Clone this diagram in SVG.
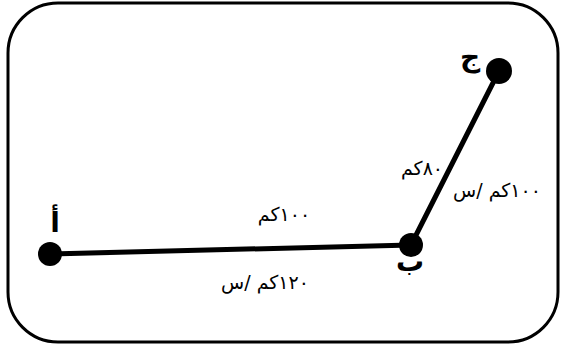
<svg xmlns="http://www.w3.org/2000/svg" width="561" height="347" viewBox="0 0 561 347">
<style>
.frame{fill:#fff;stroke:#000;stroke-width:3}
.edge{stroke:#000;stroke-width:5;stroke-linecap:round;fill:none}
.dot{fill:#000}
.lbl{font-family:"DejaVu Sans",sans-serif;font-weight:bold;font-size:28px;fill:#000;text-anchor:middle}
.dist{font-family:"DejaVu Sans",sans-serif;font-size:19px;fill:#000;text-anchor:middle}
</style>
<rect width="561" height="347" fill="#fff"/>
<rect class="frame" x="8" y="3" width="550" height="339" rx="50" ry="50"/>
<g id="connectors">
<line class="edge" x1="50" y1="254" x2="411" y2="245"/>
<line class="edge" x1="411" y1="245" x2="499" y2="71"/>
<text class="dist" x="284" y="221" direction="rtl">١٠٠كم</text>
<text class="dist" x="265" y="289" direction="rtl">١٢٠كم /س</text>
<text class="dist" x="422" y="175" direction="rtl">٨٠كم</text>
<text class="dist" x="497" y="197" direction="rtl">١٠٠كم /س</text>
</g>
<g id="node-a">
<circle class="dot" cx="50" cy="254" r="12"/>
<text class="lbl" x="55" y="232" direction="rtl">أ</text>
</g>
<g id="node-b">
<circle class="dot" cx="411" cy="245" r="12"/>
<text class="lbl" x="410" y="271" direction="rtl">ب</text>
</g>
<g id="node-c">
<circle class="dot" cx="499" cy="71" r="13"/>
<text class="lbl" x="470" y="66" direction="rtl">ج</text>
</g>
</svg>
